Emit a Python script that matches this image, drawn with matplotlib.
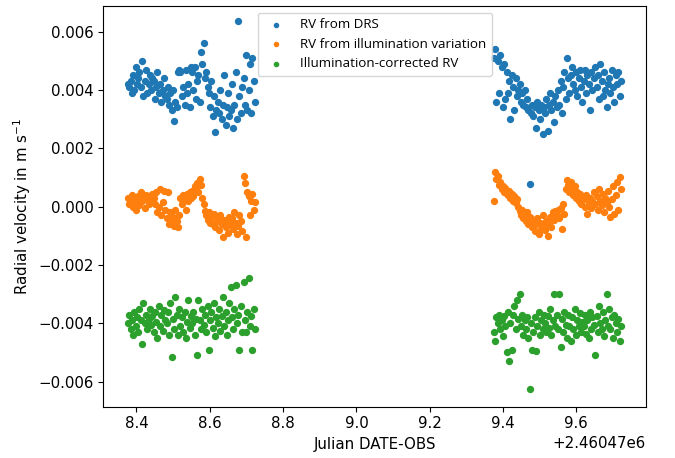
import numpy as np
import matplotlib.pyplot as plt

# Julian dates, offset from 2460470
jd0 = 2460470

t1 = [8.377, 8.380, 8.384, 8.387, 8.391, 8.394, 8.398, 8.401, 8.405, 8.408,
      8.412, 8.415, 8.419, 8.422, 8.426, 8.429, 8.433, 8.436, 8.440, 8.443,
      8.447, 8.450, 8.454, 8.457, 8.461, 8.464, 8.468, 8.471, 8.475, 8.478,
      8.482, 8.485, 8.489, 8.492, 8.496, 8.499, 8.503, 8.506, 8.510, 8.513,
      8.517, 8.520, 8.524, 8.527, 8.531, 8.534, 8.538, 8.541, 8.545, 8.548,
      8.552, 8.555, 8.559, 8.562, 8.566, 8.569, 8.573, 8.576, 8.580, 8.583,
      8.587, 8.590, 8.594, 8.597, 8.601, 8.604, 8.608, 8.611, 8.615, 8.618,
      8.622, 8.625, 8.629, 8.632, 8.636, 8.639, 8.643, 8.646, 8.650, 8.653,
      8.657, 8.660, 8.664, 8.667, 8.671, 8.674, 8.678, 8.681, 8.685, 8.688,
      8.692, 8.695, 8.699, 8.702, 8.706, 8.709, 8.713, 8.716, 8.720, 8.724]

t2 = [9.375, 9.378, 9.382, 9.385, 9.389, 9.392, 9.396, 9.399, 9.403, 9.406,
      9.410, 9.413, 9.417, 9.420, 9.424, 9.427, 9.431, 9.434, 9.438, 9.441,
      9.445, 9.448, 9.452, 9.455, 9.459, 9.462, 9.466, 9.469, 9.473, 9.476,
      9.480, 9.483, 9.487, 9.490, 9.494, 9.497, 9.501, 9.504, 9.508, 9.511,
      9.515, 9.518, 9.522, 9.525, 9.529, 9.532, 9.536, 9.539, 9.543, 9.546,
      9.550, 9.553, 9.557, 9.560, 9.564, 9.567, 9.571, 9.574, 9.578, 9.581,
      9.585, 9.588, 9.592, 9.595, 9.599, 9.602, 9.606, 9.609, 9.613, 9.616,
      9.620, 9.623, 9.627, 9.630, 9.634, 9.637, 9.641, 9.644, 9.648, 9.651,
      9.655, 9.658, 9.662, 9.665, 9.669, 9.672, 9.676, 9.679, 9.683, 9.686,
      9.690, 9.693, 9.697, 9.700, 9.704, 9.707, 9.711, 9.714, 9.718, 9.722]

# RV values in units of 1e-3 m/s
drs1 = [4.2, 4.1, 4.3, 3.9, 4.5, 4.0, 4.8, 4.2, 4.4, 4.6,
        4.1, 5.0, 3.8, 4.3, 4.7, 3.9, 4.2, 4.5, 4.0, 4.4,
        4.3, 3.7, 4.1, 4.6, 3.9, 4.2, 3.6, 4.0, 4.4, 3.8,
        3.7, 4.1, 3.5, 3.9, 3.3, 4.0, 2.95, 3.6, 3.4, 4.6,
        4.7, 4.6, 3.8, 4.1, 3.5, 4.7, 3.9, 4.2, 3.4, 4.8,
        4.6, 4.0, 4.8, 3.7, 4.3, 4.5, 3.6, 5.3, 4.9, 5.6,
        4.4, 4.6, 4.1, 3.9, 3.4, 4.3, 3.1, 3.8, 2.55, 3.3,
        3.6, 3.2, 4.0, 3.0, 3.5, 4.5, 2.8, 3.4, 3.9, 3.1,
        3.3, 4.2, 2.7, 3.5, 4.6, 3.0, 6.35, 3.8, 3.2, 4.1,
        4.4, 3.5, 5.2, 3.3, 4.0, 4.9, 3.2, 5.1, 4.3, 3.6]

drs2 = [5.1, 5.4, 3.6, 5.0, 3.9, 5.2, 4.8, 3.4, 4.9, 3.7,
        4.6, 3.9, 4.3, 3.0, 4.5, 4.1, 3.3, 4.4, 3.8, 4.0,
        4.2, 3.6, 3.9, 3.5, 4.0, 3.4, 3.7, 3.3, 0.78, 3.2,
        3.5, 3.1, 3.4, 2.7, 3.6, 3.3, 3.0, 3.5, 2.5, 3.4,
        3.2, 3.7, 2.6, 3.5, 3.9, 3.3, 3.6, 2.9, 3.8, 3.4,
        4.0, 3.5, 4.3, 3.2, 4.1, 4.6, 3.7, 5.1, 4.4, 3.9,
        4.5, 4.8, 4.2, 4.0, 4.6, 3.8, 4.4, 4.7, 4.1, 3.6,
        4.3, 4.7, 3.9, 4.5, 4.2, 3.3, 4.6, 4.0, 4.4, 4.8,
        4.1, 4.5, 3.7, 4.9, 4.3, 3.8, 4.6, 4.0, 3.4, 4.2,
        4.4, 3.9, 4.7, 4.1, 3.6, 4.5, 4.2, 4.6, 3.8, 4.3]

illum1 = [0.3, 0.1, 0.2, 0.4, 0.0, 0.25, -0.1, 0.15, 0.35, 0.05,
          0.5, 0.2, 0.3, -0.05, 0.4, 0.25, 0.1, 0.35, 0.2, 0.45,
          0.3, 0.1, 0.5, -0.2, 0.0, 0.6, -0.3, 0.15, 0.55, -0.1,
          -0.4, 0.5, -0.6, -0.2, -0.5, -0.35, -0.65, -0.1, -0.5, -0.7,
          -0.3, 0.3, 0.1, 0.4, 0.25, -0.1, 0.45, 0.2, 0.5, 0.3,
          0.55, 0.35, 0.7, 0.6, 0.8, 0.5, 0.95, 0.75, 0.3, 0.1,
          -0.15, -0.3, -0.45, -0.2, -0.55, -0.35, -0.6, -0.25, -0.7, -0.4,
          -0.5, -0.8, -0.3, -0.6, -1.05, -0.45, -0.7, -0.55, -0.9, -0.35,
          -0.6, -0.4, -0.75, -0.2, -0.55, -0.95, -0.65, -0.3, -0.5, -0.85,
          1.05, 0.8, -1.05, 0.5, 0.35, -0.3, 0.2, 0.45, -0.1, 0.15]

illum2 = [0.18, 1.2, 0.95, 1.05, 0.75, 0.85, 0.6, 0.7, 0.5, 0.65,
          0.45, 0.4, 0.55, 0.3, 0.45, 0.2, 0.35, 0.12, 0.25, 0.0,
          -0.15, -0.3, -0.1, -0.4, -0.25, -0.5, -0.2, -0.6, -0.35, -0.45,
          -0.7, -0.5, -0.85, -0.6, -0.4, -0.95, -0.55, -0.75, -0.3, -0.65,
          -0.8, -0.5, -1.0, -0.6, -0.35, -0.7, -0.2, -0.45, -0.15, -0.3,
          -0.1, -0.4, -0.05, -0.75, 0.1, -0.25, 0.6, 0.9, 0.75, 0.5,
          0.85, 0.6, 0.4, 0.7, 0.3, 0.5, 0.2, 0.45, 0.1, 0.35,
          0.25, 0.0, 0.4, -0.25, 0.15, 0.3, -0.05, 0.2, 0.5, 0.1,
          0.35, -0.1, 0.6, 0.2, 0.05, 0.45, -0.2, 0.3, 0.15, 0.55,
          0.0, -0.35, 0.25, 0.7, -0.25, 0.4, 0.85, -0.1, 1.0, 0.6]

corr1 = [-4.0, -3.7, -4.2, -3.9, -4.4, -3.6, -4.1, -3.8, -4.3, -3.5,
         -3.9, -4.7, -3.3, -4.0, -3.7, -4.2, -3.85, -3.5, -4.05, -3.75,
         -4.3, -3.6, -3.95, -4.5, -3.4, -4.1, -3.7, -4.25, -3.55, -3.9,
         -4.0, -3.6, -4.4, -3.3, -5.15, -3.85, -4.2, -3.1, -3.7, -4.4,
         -3.5, -4.1, -3.8, -4.3, -3.6, -4.5, -3.95, -3.2, -4.15, -3.75,
         -4.0, -3.6, -4.4, -3.85, -5.1, -3.2, -3.9, -4.2, -3.5, -4.05,
         -3.7, -4.3, -3.4, -4.9, -3.9, -3.6, -4.15, -3.3, -4.45, -3.8,
         -4.0, -3.5, -4.25, -3.75, -3.1, -4.1, -3.6, -4.4, -3.9, -3.3,
         -2.75, -3.8, -4.2, -3.5, -2.7, -4.0, -3.7, -4.9, -3.4, -4.3,
         -2.6, -3.9, -4.3, -3.6, -2.45, -4.1, -3.75, -4.9, -3.5, -4.2]

corr2 = [-4.3, -4.6, -3.8, -4.0, -3.7, -4.2, -3.9, -4.45, -3.75, -4.1,
         -5.0, -3.6, -5.3, -4.0, -4.9, -3.7, -3.4, -4.2, -3.2, -3.85,
         -3.0, -4.1, -3.7, -4.4, -3.9, -4.2, -3.8, -4.5, -6.25, -4.0,
         -4.9, -4.3, -3.8, -4.95, -4.1, -3.6, -4.4, -3.9, -4.2, -3.7,
         -4.0, -4.3, -3.75, -4.15, -3.5, -4.4, -3.9, -3.0, -4.1, -3.7,
         -4.2, -3.0, -4.8, -3.85, -4.3, -3.6, -4.05, -4.5, -3.7, -4.1,
         -4.6, -3.8, -4.2, -3.5, -4.4, -3.9, -4.1, -3.65, -4.3, -3.95,
         -4.1, -3.7, -4.35, -3.9, -4.5, -3.6, -4.2, -3.8, -4.05, -5.1,
         -3.75, -4.3, -3.4, -4.0, -4.2, -3.6, -4.45, -3.9, -3.0, -4.1,
         -3.5, -4.2, -3.8, -4.5, -3.7, -4.0, -4.3, -3.85, -4.6, -4.1]

jd = jd0 + np.array(t1 + t2)
rv_drs = np.array(drs1 + drs2) * 1e-3
rv_illum = np.array(illum1 + illum2) * 1e-3
rv_corr = np.array(corr1 + corr2) * 1e-3

plt.rcParams['font.size'] = 10.8

fig = plt.figure(figsize=(6.75, 4.58), dpi=100)
ax = fig.add_axes([103.5 / 675, 51.3 / 458, 542.5 / 675, 400.7 / 458])

ax.scatter(jd, rv_drs, s=18, color='#1f77b4', label='RV from DRS')
ax.scatter(jd, rv_illum, s=18, color='#ff7f0e', label='RV from illumination variation')
ax.scatter(jd, rv_corr, s=18, color='#2ca02c', label='Illumination-corrected RV')

ax.set_xlim(jd0 + 8.31, jd0 + 9.79)
ax.set_ylim(-0.00686, 0.00688)
ax.set_xlabel('Julian DATE-OBS')
ax.set_ylabel('Radial velocity in m s$^{-1}$')
ax.legend(loc='upper center', markerscale=0.7,
          prop={'family': 'Open Sans', 'size': 9.6})

fig.savefig('out.png', dpi=100)
